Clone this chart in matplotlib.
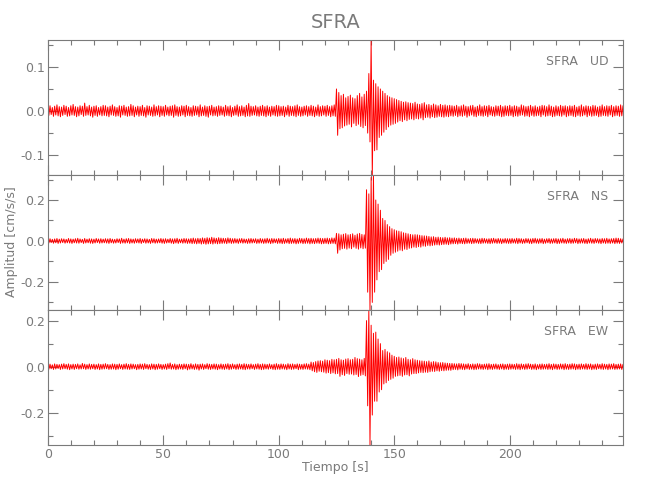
import numpy as np
import matplotlib
matplotlib.use("Agg")
from matplotlib import pyplot as plt
from matplotlib.ticker import MultipleLocator

# upper / lower peak of each 1 s slice of the trace,
# in units of 0.001 cm/s/s (lower peaks given as magnitudes)
ud_hi = [9, 12, 8, 11, 14, 10, 9, 13, 11, 8, 12, 15, 10, 9, 12, 11, 18, 10, 13, 9, 11, 12, 8, 10, 13,
         12, 9, 11, 14, 10, 8, 12, 11, 13, 9, 10, 15, 12, 9, 11, 10, 13, 8, 12, 11, 9, 14, 10, 12, 11,
         10, 13, 9, 11, 12, 14, 10, 9, 12, 11, 13, 10, 8, 12, 11, 10, 14, 9, 12, 10, 11, 13, 9, 10, 12,
         11, 9, 13, 10, 12, 8, 11, 14, 10, 12, 9, 13, 17, 11, 10, 12, 9, 11, 13, 10, 12, 9, 11, 10, 13,
         12, 10, 11, 9, 13, 11, 10, 12, 14, 10, 9, 11, 12, 10, 13, 11, 9, 14, 10, 12, 11, 13, 10, 12, 14,
         50, 42, 35, 38, 30, 33, 36, 30, 28, 35, 40, 32, 38, 45, 85, 161, 70, 62, 55, 50, 45, 40, 35, 32, 30,
         28, 26, 24, 22, 20, 21, 19, 18, 17, 20, 16, 15, 17, 19, 14, 15, 13, 16, 14, 12, 15, 13, 14, 12, 13,
         12, 11, 13, 10, 12, 14, 11, 10, 12, 13, 9, 11, 14, 10, 12, 11, 13, 10, 9, 12, 11, 13, 10, 12, 11,
         13, 10, 12, 11, 9, 14, 12, 10, 11, 13, 10, 12, 9, 11, 13, 12, 10, 14, 11, 9, 12, 10, 13, 11, 12,
         10, 12, 11, 13, 9, 11, 14, 10, 12, 11, 10, 13, 12, 9, 11, 14, 10, 12, 11, 13, 10, 12, 11, 14, 12]
ud_lo = [10, 8, 12, 9, 11, 13, 10, 8, 12, 11, 9, 10, 13, 11, 8, 12, 10, 9, 11, 14, 10, 12, 9, 11, 10,
         11, 13, 9, 10, 12, 11, 14, 9, 10, 12, 11, 10, 13, 9, 12, 10, 11, 14, 9, 10, 12, 11, 9, 13, 10,
         12, 9, 11, 10, 14, 10, 12, 11, 9, 13, 10, 11, 12, 10, 9, 13, 11, 10, 12, 14, 9, 11, 10, 12, 10,
         9, 12, 10, 11, 13, 10, 9, 12, 11, 10, 13, 11, 12, 10, 9, 11, 12, 10, 11, 13, 10, 12, 9, 11, 12,
         11, 10, 13, 9, 12, 10, 11, 13, 10, 12, 11, 9, 12, 10, 11, 13, 10, 12, 11, 9, 12, 10, 13, 11, 12,
         55, 40, 38, 34, 32, 30, 36, 28, 33, 30, 35, 38, 33, 50, 70, 145, 90, 88, 60, 55, 48, 42, 36, 32, 30,
         28, 25, 22, 24, 20, 22, 19, 18, 20, 17, 18, 16, 20, 15, 14, 16, 13, 15, 14, 12, 13, 14, 12, 13, 11,
         12, 10, 13, 11, 12, 10, 14, 11, 9, 12, 13, 10, 11, 12, 10, 13, 9, 11, 12, 10, 11, 13, 12, 10, 11,
         10, 13, 11, 12, 10, 9, 12, 11, 13, 10, 12, 11, 10, 13, 9, 12, 11, 10, 13, 12, 10, 11, 12, 9, 13,
         11, 10, 12, 13, 10, 12, 11, 9, 13, 10, 12, 11, 10, 13, 12, 10, 11, 12, 9, 13, 11, 10, 12, 11, 10]

ns_hi = [9, 11, 8, 10, 12, 9, 11, 10, 8, 12, 10, 9, 11, 13, 10, 8, 12, 9, 11, 10, 9, 12, 10, 11, 9,
         11, 10, 12, 9, 8, 11, 10, 13, 9, 11, 12, 10, 9, 11, 10, 12, 9, 11, 10, 8, 12, 11, 9, 10, 12,
         10, 11, 9, 12, 10, 11, 13, 9, 10, 12, 11, 10, 12, 14, 11, 13, 12, 15, 13, 16, 14, 18, 15, 13, 16,
         14, 13, 12, 15, 13, 11, 12, 10, 11, 12, 10, 9, 11, 12, 10, 11, 9, 12, 10, 11, 13, 10, 12, 11, 10,
         12, 11, 13, 10, 12, 14, 11, 12, 10, 13, 12, 11, 14, 12, 13, 11, 12, 14, 13, 12, 13, 14, 12, 15, 14,
         37, 35, 30, 33, 36, 30, 32, 35, 28, 34, 37, 32, 30, 250, 230, 310, 322, 200, 180, 150, 110, 100, 80, 70, 60,
         55, 50, 48, 45, 40, 38, 35, 32, 30, 31, 30, 28, 26, 25, 24, 22, 20, 21, 18, 19, 17, 16, 18, 15, 16,
         14, 15, 13, 14, 12, 13, 14, 11, 12, 13, 12, 10, 11, 13, 12, 10, 11, 12, 13, 10, 12, 11, 10, 12, 11,
         11, 12, 10, 13, 12, 11, 9, 12, 11, 10, 12, 13, 10, 11, 12, 9, 11, 12, 10, 11, 12, 10, 11, 13, 9,
         11, 12, 10, 13, 12, 10, 11, 12, 9, 11, 13, 10, 12, 11, 10, 12, 11, 13, 10, 11, 12, 14, 13, 11, 10]
ns_lo = [10, 8, 11, 9, 12, 10, 8, 11, 9, 10, 12, 9, 10, 11, 8, 12, 10, 9, 11, 12, 10, 8, 11, 10, 9,
         10, 12, 9, 11, 10, 8, 12, 10, 11, 9, 12, 10, 11, 9, 10, 12, 8, 11, 10, 12, 9, 11, 10, 9, 11,
         12, 10, 9, 11, 13, 10, 12, 9, 11, 10, 12, 11, 13, 12, 14, 12, 15, 13, 16, 14, 13, 15, 12, 14, 13,
         12, 11, 13, 10, 12, 11, 10, 12, 9, 11, 10, 12, 11, 10, 9, 12, 11, 10, 12, 11, 10, 13, 11, 9, 12,
         11, 13, 12, 10, 13, 12, 11, 14, 12, 10, 13, 12, 11, 14, 12, 13, 11, 12, 14, 13, 12, 14, 13, 12, 14,
         60, 44, 38, 36, 40, 35, 38, 30, 36, 40, 34, 38, 35, 250, 337, 300, 250, 190, 150, 140, 110, 100, 90, 70, 60,
         55, 50, 45, 48, 40, 42, 36, 34, 30, 32, 28, 30, 25, 26, 22, 24, 22, 20, 19, 20, 18, 17, 16, 18, 15,
         14, 13, 15, 12, 13, 14, 12, 11, 13, 12, 10, 12, 13, 11, 10, 12, 13, 11, 10, 12, 11, 13, 10, 11, 12,
         12, 10, 11, 13, 10, 12, 11, 9, 12, 13, 10, 11, 12, 10, 13, 11, 9, 12, 11, 10, 13, 12, 10, 11, 12,
         10, 12, 11, 9, 13, 11, 10, 12, 13, 10, 11, 12, 9, 11, 13, 10, 12, 11, 12, 10, 13, 11, 12, 10, 11]

ew_hi = [9, 11, 8, 12, 10, 9, 11, 13, 10, 12, 9, 11, 10, 12, 8, 14, 11, 9, 12, 10, 11, 9, 12, 10, 11,
         13, 10, 9, 12, 11, 10, 12, 9, 11, 13, 10, 12, 11, 9, 10, 12, 11, 13, 10, 9, 12, 11, 10, 12, 10,
         9, 11, 13, 16, 10, 12, 9, 11, 10, 12, 11, 10, 13, 9, 12, 10, 11, 12, 9, 13, 11, 10, 12, 11, 9,
         12, 10, 11, 13, 10, 12, 9, 11, 12, 10, 13, 11, 10, 12, 9, 11, 13, 10, 12, 11, 10, 12, 9, 11, 13,
         10, 12, 11, 9, 13, 11, 12, 10, 12, 11, 10, 12, 13, 11, 20, 18, 22, 25, 26, 24, 30, 28, 26, 32, 30,
         32, 36, 30, 28, 33, 35, 30, 32, 40, 35, 33, 30, 36, 200, 246, 180, 145, 150, 120, 100, 70, 75, 65, 60, 50,
         45, 40, 42, 38, 35, 40, 32, 30, 35, 30, 28, 26, 25, 24, 22, 25, 20, 22, 21, 18, 17, 18, 16, 15, 14,
         14, 13, 12, 14, 13, 12, 11, 13, 10, 12, 11, 13, 12, 10, 11, 12, 13, 10, 11, 12, 9, 11, 12, 10, 11,
         12, 11, 10, 13, 11, 12, 10, 12, 13, 11, 10, 12, 9, 11, 12, 10, 11, 13, 10, 12, 11, 10, 12, 11, 13,
         10, 11, 13, 12, 10, 11, 12, 10, 13, 11, 12, 9, 11, 12, 10, 13, 11, 10, 12, 11, 13, 10, 11, 12, 10]
ew_lo = [11, 9, 12, 10, 8, 12, 10, 9, 11, 13, 10, 12, 9, 11, 10, 9, 12, 10, 11, 9, 12, 10, 13, 11, 10,
         9, 12, 11, 10, 13, 11, 9, 12, 10, 11, 12, 10, 9, 13, 11, 10, 12, 9, 11, 12, 10, 13, 11, 9, 12,
         10, 12, 9, 11, 10, 13, 11, 10, 12, 9, 14, 11, 10, 12, 11, 15, 10, 12, 9, 11, 12, 10, 11, 13, 10,
         11, 12, 10, 13, 11, 9, 12, 11, 10, 12, 13, 10, 11, 9, 12, 10, 11, 13, 12, 10, 11, 9, 12, 13, 11,
         12, 10, 11, 13, 10, 12, 11, 9, 13, 11, 12, 10, 11, 13, 18, 22, 25, 20, 22, 24, 28, 26, 30, 27, 31,
         30, 42, 35, 38, 30, 33, 32, 36, 34, 43, 38, 35, 40, 170, 340, 210, 150, 150, 110, 100, 75, 70, 60, 55, 50,
         42, 40, 38, 42, 36, 35, 40, 32, 30, 30, 27, 25, 26, 24, 25, 22, 20, 21, 18, 20, 17, 18, 16, 15, 16,
         13, 12, 14, 11, 12, 13, 10, 12, 11, 13, 12, 10, 11, 12, 10, 13, 11, 12, 10, 11, 12, 10, 13, 11, 12,
         11, 10, 12, 11, 13, 10, 12, 11, 9, 12, 11, 13, 10, 12, 11, 10, 12, 11, 13, 10, 12, 11, 10, 13, 11,
         12, 11, 10, 13, 11, 12, 10, 11, 12, 10, 13, 11, 12, 9, 11, 12, 10, 13, 11, 10, 12, 11, 10, 12, 11]

station = "SFRA"
components = ["UD", "NS", "EW"]
traces = [(ud_hi, ud_lo), (ns_hi, ns_lo), (ew_hi, ew_lo)]
y_major = [0.1, 0.2, 0.2]
y_minor = [0.05, 0.1, 0.1]

grey = "#7a7a7a"
plt.rcParams["font.family"] = "DejaVu Sans"
plt.rcParams["axes.unicode_minus"] = False

fig = plt.figure(figsize=(6.5, 5), dpi=100)
left, width, h = 0.0734, 0.885, 0.27
bottoms = [0.65, 0.38, 0.11]

for i, (comp, (hi, lo)) in enumerate(zip(components, traces)):
    hi = np.array(hi) / 1000.0
    lo = -np.array(lo) / 1000.0
    t = np.arange(len(hi))
    # trace swings from the upper peak to the lower peak within each second
    x = np.column_stack([t, t + 0.5]).ravel()
    y = np.column_stack([hi, lo]).ravel()
    ax = fig.add_axes([left, bottoms[i], width, h])
    ax.plot(x, y, color="#ff0000", lw=0.7)
    ax.set_xlim(0, 249)
    ax.set_ylim(y.min(), y.max())
    ax.xaxis.set_major_locator(MultipleLocator(50))
    ax.xaxis.set_minor_locator(MultipleLocator(10))
    ax.yaxis.set_major_locator(MultipleLocator(y_major[i]))
    ax.yaxis.set_minor_locator(MultipleLocator(y_minor[i]))
    ax.tick_params(which="both", direction="in", top=True, right=True,
                   color=grey, labelcolor=grey, labelsize=9, width=0.8, pad=2)
    ax.tick_params(which="major", length=7)
    ax.tick_params(which="minor", length=3.6)
    for s in ax.spines.values():
        s.set_color(grey)
        s.set_linewidth(0.8)
    if i < 2:
        ax.tick_params(labelbottom=False)
    else:
        ax.set_xlabel("Tiempo [s]", color=grey, fontsize=9, labelpad=0)
    ax.text(0.975, 0.84, station + "   " + comp, transform=ax.transAxes,
            ha="right", va="center", color=grey, fontsize=9)

fig.text(12 / 650, 1 - 242 / 500, "Amplitud [cm/s/s]", rotation=90,
         ha="center", va="center", color=grey, fontsize=9)
fig.text(0.516, 1 - 22.5 / 500, station, ha="center", va="center",
         color=grey, fontsize=14)

fig.savefig("out.png", dpi=100)
